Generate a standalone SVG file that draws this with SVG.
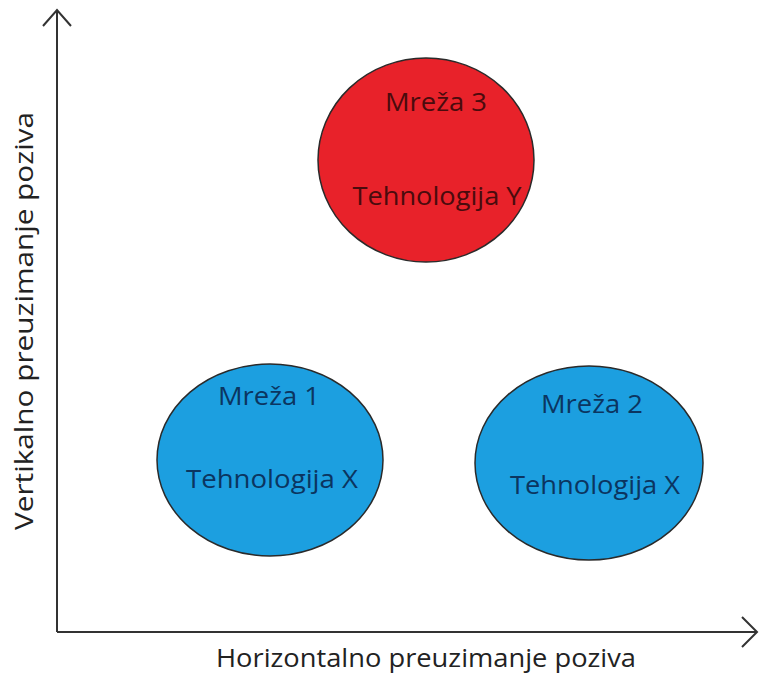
<svg xmlns="http://www.w3.org/2000/svg" width="761" height="675" viewBox="0 0 761 675">
<style>
.ax{stroke:#333;stroke-width:2;fill:none}
.node{stroke:#2a2a2a;stroke-width:1.5}
.t{font-family:"Open Sans","Liberation Sans",sans-serif;font-size:25px;text-anchor:middle}
.lbl{font-family:"Open Sans","Liberation Sans",sans-serif;font-size:25px;fill:#222;text-anchor:middle}
</style>
<rect width="761" height="675" fill="#fff"/>
<g id="axes" class="connectors">
<path class="ax" d="M57,632 V10 M43,26 L57,10 L71,26"/>
<path class="ax" d="M57,632 H757 M742,617 L757,632 L742,647"/>
</g>
<g id="net3">
<ellipse class="node" cx="426" cy="160" rx="108" ry="102" fill="#e8222a"/>
<text class="t" x="436" y="111" fill="#4a0b0d" textLength="102" lengthAdjust="spacingAndGlyphs">Mreža 3</text>
<text class="t" x="437" y="205" fill="#4a0b0d" textLength="169" lengthAdjust="spacingAndGlyphs">Tehnologija Y</text>
</g>
<g id="net1">
<ellipse class="node" cx="270" cy="460" rx="113" ry="96" fill="#1c9fe0"/>
<text class="t" x="269" y="405" fill="#0b3560" textLength="102" lengthAdjust="spacingAndGlyphs">Mreža 1</text>
<text class="t" x="272" y="488" fill="#0b3560" textLength="172" lengthAdjust="spacingAndGlyphs">Tehnologija X</text>
</g>
<g id="net2">
<ellipse class="node" cx="589" cy="463" rx="114" ry="97" fill="#1c9fe0"/>
<text class="t" x="592" y="413" fill="#0b3560" textLength="102" lengthAdjust="spacingAndGlyphs">Mreža 2</text>
<text class="t" x="595" y="494" fill="#0b3560" textLength="170" lengthAdjust="spacingAndGlyphs">Tehnologija X</text>
</g>
<text class="lbl" x="426" y="667" textLength="420" lengthAdjust="spacingAndGlyphs">Horizontalno preuzimanje poziva</text>
<text class="lbl" transform="translate(33,321) rotate(-90)" textLength="418" lengthAdjust="spacingAndGlyphs">Vertikalno preuzimanje poziva</text>
</svg>
